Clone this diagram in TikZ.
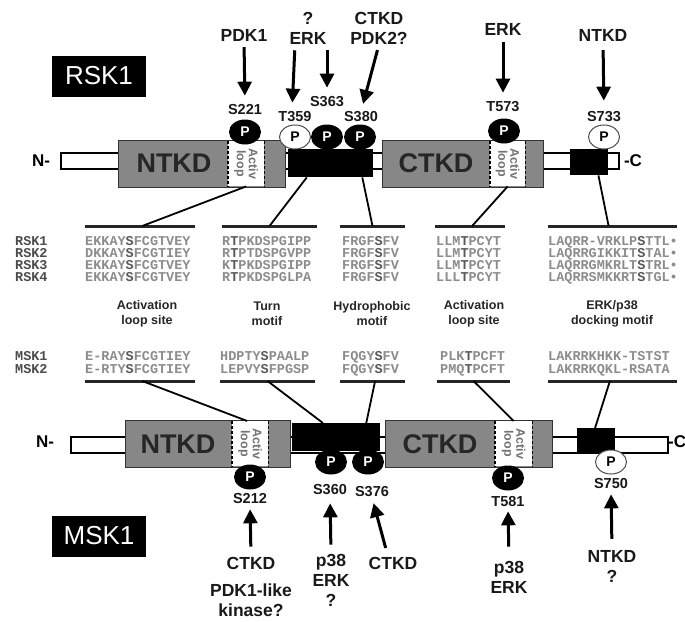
\documentclass[tikz,border=0pt]{standalone}
\usepackage{fontspec}
\setmainfont{Liberation Sans}
\newfontfamily\seqfont{Liberation Mono}
\usetikzlibrary{arrows.meta,calc,shapes.geometric}
\definecolor{dgrey}{RGB}{135,135,135}
\definecolor{seqgrey}{RGB}{140,140,140}
\newcommand\kres[1]{\textcolor{black!65}{#1}}
\begin{document}
\begin{tikzpicture}[x=1pt,y=-1pt,
  kin/.style={font=\fontsize{17.5}{20}\selectfont\bfseries, align=center, inner sep=0pt, text=black!90},
  site/.style={font=\fontsize{14.5}{16}\selectfont\bfseries, inner sep=0pt, text=black!90},
  motif/.style={font=\fontsize{12.5}{15}\selectfont\bfseries, align=center, inner sep=0pt, text=black!85},
  seq/.style={font=\fontsize{13.5}{12}\selectfont\seqfont\bfseries, text=seqgrey, align=left, inner sep=0pt, anchor=north west},
  seqm/.style={seq, font=\fontsize{13.5}{13}\selectfont\seqfont\bfseries},
  seqlab/.style={seq, text=black!70},
  seqlabm/.style={seqm, text=black!70},
  domtext/.style={font=\fontsize{27}{30}\selectfont\bfseries, text=black!85, inner sep=0pt},
  namebox/.style={fill=black, text=white, font=\fontsize{26}{28}\selectfont, minimum width=94pt, minimum height=41pt, inner sep=0pt},
  pblack/.style={ellipse, fill=black, text=white, minimum width=32pt, minimum height=25pt, inner sep=0pt, font=\fontsize{14}{14}\selectfont\bfseries},
  pwhite/.style={ellipse, draw=black!70, line width=1pt, fill=white, text=black, minimum width=31pt, minimum height=24pt, inner sep=0pt, font=\fontsize{14}{14}\selectfont\bfseries},
  arr/.style={line width=3pt, -{Triangle[length=14pt,width=14pt]}},
  conn/.style={line width=1.8pt},
  segline/.style={line width=3pt, black!85},
  dom/.style={draw=black!80, line width=1.3pt, fill=dgrey, inner sep=0pt, anchor=north west},
  loopbox/.style={fill=white, inner sep=0pt, anchor=north west},
  looptext/.style={font=\fontsize{12.5}{12}\selectfont\bfseries, text=black!55, align=center, inner sep=0pt, rotate=-90},
  loopedge/.style={dashed, dash pattern=on 3pt off 2pt, line width=1.3pt},
  thinbar/.style={draw=black, line width=1.6pt, fill=white, inner sep=0pt, anchor=north west},
  linker/.style={fill=black, inner sep=0pt, anchor=north west},
  endtext/.style={font=\fontsize{17}{17}\selectfont\bfseries, inner sep=0pt}
]
\useasboundingbox (0,0) rectangle (685,621);
\fill[white] (0,0) rectangle (685,621);

% ================= RSK1 =================
\node[namebox] (rsk1lab) at (99,76) {RSK1};
\node[thinbar, minimum width=558pt, minimum height=16pt] (bar1) at (60,152) {};
\node[dom, minimum width=167pt, minimum height=47pt] (ntkd1) at (118,140) {};
\node[loopbox, minimum width=36pt, minimum height=45pt] (lp1) at (228,141) {};
\draw[loopedge] (lp1.north west) -- (lp1.south west) (lp1.north east) -- (lp1.south east);
\node[looptext] (lt1) at (lp1) {Activ\\loop};
\node[linker, minimum width=85pt, minimum height=28pt] (lk1) at (288,149) {};
\node[dom, minimum width=161pt, minimum height=47pt] (ctkd1) at (382,140) {};
\node[loopbox, minimum width=35pt, minimum height=45pt] (lp2) at (490,141) {};
\draw[loopedge] (lp2.north west) -- (lp2.south west) (lp2.north east) -- (lp2.south east);
\node[looptext] (lt2) at (lp2) {Activ\\loop};
\node[linker, minimum width=38pt, minimum height=26pt] (cb1) at (570,149) {};
\node[domtext] (nt1) at (174,163) {NTKD};
\node[domtext] (ct1) at (436,163) {CTKD};
\node[endtext] (n1) at (41,161) {N-};
\node[endtext] (c1) at (633,161) {-C};

% phospho sites RSK1
\node[pblack] (p221) at (245,132) {P};
\node[pwhite] (p359) at (295,137) {P};
\node[pblack] (p363) at (327,137) {P};
\node[pblack] (p380) at (360,137) {P};
\node[pblack] (p573) at (504,131) {P};
\node[pwhite] (p733) at (604,137) {P};
\node[site] (s221) at (245,110) {S221};
\node[site] (t359) at (295,117) {T359};
\node[site] (s363) at (327,102) {S363};
\node[site] (s380) at (361,117) {S380};
\node[site] (t573) at (503,107) {T573};
\node[site] (s733) at (604,117) {S733};

% kinases RSK1
\node[kin] (kpdk1) at (244,35) {PDK1};
\node[kin] (kerk) at (308,28) {?\\ERK};
\node[kin] (kctkd) at (379,28) {CTKD\\PDK2?};
\node[kin] (kerk2) at (503,29) {ERK};
\node[kin] (kntkd) at (603,35) {NTKD};

\draw[arr, shorten <=6pt, shorten >=9pt] (kpdk1.south) -- (s221.north);
\draw[arr, shorten <=6pt, shorten >=9pt] (kerk.south -| t359) -- ($(t359.north)+(-3,0)$);
\draw[arr, shorten <=6pt, shorten >=9pt] (kerk.south -| s363) -- (s363.north);
\draw[arr, shorten <=6pt, shorten >=8pt] (kctkd.south) -- (s380.north);
\draw[arr, shorten <=7pt, shorten >=9pt] (kerk2.south) -- (t573.north);
\draw[arr, shorten <=9pt, shorten >=11pt] (kntkd.south) -- (s733.north);

% ================= sequences RSK =================
\coordinate (ra1) at (85,226);  \coordinate (rb1) at (195,226);
\coordinate (ra2) at (222,226); \coordinate (rb2) at (317,226);
\coordinate (ra3) at (340,226); \coordinate (rb3) at (405,226);
\coordinate (ra4) at (435,226); \coordinate (rb4) at (505,226);
\coordinate (ra5) at (548,226); \coordinate (rb5) at (677,226);
\foreach \i in {1,...,5} {\draw[segline] (ra\i) -- (rb\i);}

\node[seqlab] (rlab) at (15,236) {RSK1\\RSK2\\RSK3\\RSK4};
\node[seq] (rq1) at (85,236) {EKKAY\kres{S}FCGTVEY\\DKKAY\kres{S}FCGTIEY\\EKKAY\kres{S}FCGTVEY\\EKKAY\kres{S}FCGTVEY};
\node[seq] (rq2) at (222,236) {R\kres{T}PKDSPGIPP\\R\kres{T}PTDSPGVPP\\K\kres{T}PKDSPGIPP\\R\kres{T}PKDSPGLPA};
\node[seq] (rq3) at (342,236) {FRGF\kres{S}FV\\FRGF\kres{S}FV\\FRGF\kres{S}FV\\FRGF\kres{S}FV};
\node[seq] (rq4) at (436,236) {LLM\kres{T}PCYT\\LLM\kres{T}PCYT\\LLM\kres{T}PCYT\\LLL\kres{T}PCYT};
\node[seq] (rq5) at (548,236) {LAQRR-VRKLP\kres{S}TTL\textbullet\\LAQRRGIKKIT\kres{S}TAL\textbullet\\LAQRRGMKRLT\kres{S}TRL\textbullet\\LAQRRSMKKRT\kres{S}TGL\textbullet};

\node[motif] (m1) at (147,314) {Activation\\loop site};
\node[motif] (m2) at (267,314) {Turn\\motif};
\node[motif] (m3) at (372,314) {Hydrophobic\\motif};
\node[motif] (m4) at (474,314) {Activation\\loop site};
\node[motif] (m5) at (612,314) {ERK/p38\\docking motif};

\draw[conn] (lp1.south) -- ($(ra1)!0.52!(rb1)$);
\draw[conn] ($(lk1.south west)!0.22!(lk1.south east)$) -- ($(ra2)!0.5!(rb2)$);
\draw[conn] ($(lk1.south west)!0.87!(lk1.south east)$) -- ($(ra3)!0.5!(rb3)$);
\draw[conn] (lp2.south) -- ($(ra4)!0.53!(rb4)$);
\draw[conn] ($(cb1.south west)!0.74!(cb1.south east)$) -- ($(ra5)!0.47!(rb5)$);

% ================= sequences MSK =================
\node[seqlabm] (mlab) at (15,351) {MSK1\\MSK2};
\node[seqm] (mq1) at (85,351) {E-RAY\kres{S}FCGTIEY\\E-RTY\kres{S}FCGTIEY};
\node[seqm] (mq2) at (220,351) {HDPTY\kres{S}PAALP\\LEPVY\kres{S}FPGSP};
\node[seqm] (mq3) at (342,351) {FQGY\kres{S}FV\\FQGY\kres{S}FV};
\node[seqm] (mq4) at (440,351) {PLK\kres{T}PCFT\\PMQ\kres{T}PCFT};
\node[seqm] (mq5) at (548,351) {LAKRRKHKK-TSTST\\LAKRRKQKL-RSATA};

\coordinate (ma1) at (85,381);  \coordinate (mb1) at (195,381);
\coordinate (ma2) at (220,381); \coordinate (mb2) at (315,381);
\coordinate (ma3) at (340,381); \coordinate (mb3) at (405,381);
\coordinate (ma4) at (437,381); \coordinate (mb4) at (510,381);
\coordinate (ma5) at (548,381); \coordinate (mb5) at (677,381);
\foreach \i in {1,...,5} {\draw[segline] (ma\i) -- (mb\i);}

% ================= MSK1 =================
\node[thinbar, minimum width=597pt, minimum height=16pt] (bar2) at (70,436) {};
\node[dom, minimum width=165pt, minimum height=47pt] (ntkd2) at (125,420) {};
\node[loopbox, minimum width=36pt, minimum height=45pt] (lp3) at (232,421) {};
\draw[loopedge] (lp3.north west) -- (lp3.south west) (lp3.north east) -- (lp3.south east);
\node[looptext] (lt3) at (lp3) {Activ\\loop};
\node[linker, minimum width=88pt, minimum height=28pt] (lk2) at (292,423) {};
\node[dom, minimum width=167pt, minimum height=47pt] (ctkd2) at (385,420) {};
\node[loopbox, minimum width=37pt, minimum height=45pt] (lp4) at (495,421) {};
\draw[loopedge] (lp4.north west) -- (lp4.south west) (lp4.north east) -- (lp4.south east);
\node[looptext] (lt4) at (lp4) {Activ\\loop};
\node[linker, minimum width=38pt, minimum height=26pt] (cb2) at (577,428) {};
\node[domtext] (nt2) at (178,444) {NTKD};
\node[domtext] (ct2) at (440,444) {CTKD};
\node[endtext] (n2) at (45,442) {N-};
\node[endtext, anchor=west] (c2) at (668,442) {-C};

\node[namebox] (msk1lab) at (99,536) {MSK1};

\draw[conn] ($(ma1)!0.52!(mb1)$) -- ($(lp3.north)+(-3,0)$);
\draw[conn] ($(ma2)!0.5!(mb2)$) -- ($(lk2.north west)!0.35!(lk2.north east)$);
\draw[conn] ($(ma3)!0.54!(mb3)$) -- ($(lk2.north west)!0.84!(lk2.north east)$);
\draw[conn] ($(ma4)!0.5!(mb4)$) -- (lp4.north);
\draw[conn] ($(ma5)!0.48!(mb5)$) -- ($(cb2.north west)!0.47!(cb2.north east)$);

% phospho sites MSK1
\node[pblack] (p212) at (250,477) {P};
\node[pblack] (p360) at (331,462) {P};
\node[pblack] (p376) at (368,462) {P};
\node[pblack] (p581) at (508,478) {P};
\node[pwhite] (p750) at (611,462) {P};
\node[site] (s212) at (250,499) {S212};
\node[site] (s360) at (330,490) {S360};
\node[site] (s376) at (372,492) {S376};
\node[site] (t581) at (508,502) {T581};
\node[site] (s750) at (611,484) {S750};

\node[kin] (bctkd) at (251,563) {CTKD};
\node[kin] (bpdk) at (251,600) {PDK1-like\\kinase?};
\node[kin] (bp38) at (331,580) {p38\\ERK\\?};
\node[kin] (bctkd2) at (393,563) {CTKD};
\node[kin] (bp38b) at (509,577) {p38\\ERK};
\node[kin] (bntkd) at (612,566) {NTKD\\?};

\draw[arr, shorten <=10pt, shorten >=5pt] (bctkd.north) -- (s212.south);
\draw[arr, shorten <=9pt, shorten >=8pt] (bp38.north) -- (s360.south);
\draw[arr, shorten <=9pt, shorten >=6pt] ($(bctkd2.north)+(-5,0)$) -- (s376.south);
\draw[arr, shorten <=14pt, shorten >=4pt] (bp38b.north) -- (t581.south);
\draw[arr, shorten <=11pt, shorten >=5pt] (bntkd.north) -- (s750.south);
\end{tikzpicture}
\end{document}
